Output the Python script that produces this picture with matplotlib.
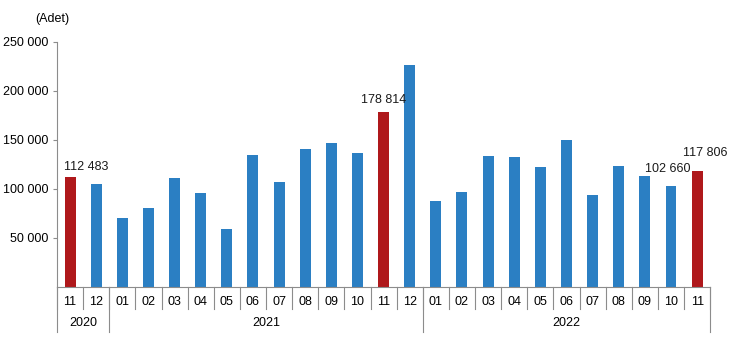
import matplotlib.pyplot as plt
import matplotlib.transforms as mtransforms

plt.rcParams['font.family'] = ['Liberation Sans', 'DejaVu Sans']

# data
months = ['11', '12',
          '01', '02', '03', '04', '05', '06', '07', '08', '09', '10', '11', '12',
          '01', '02', '03', '04', '05', '06', '07', '08', '09', '10', '11']
years = ['2020', '2021', '2022']
year_counts = [2, 12, 11]
values = [112483, 105000,
          70400, 80600, 111200, 95900, 59200, 134600, 107100, 140800, 146900, 136700, 178814, 226400,
          87700, 96900, 133600, 132600, 122400, 149900, 93800, 123400, 113200, 102660, 117806]
highlight = [0, 12, 24]
labelled = [0, 12, 23, 24]

blue = '#2B7FC3'
red = '#AF181B'
grey = '#8C8C8C'
fs = 9

fig = plt.figure(figsize=(7.29, 3.61), dpi=100)
ax = fig.add_axes([0.0782, 0.205, 0.896, 0.679])

x = list(range(len(values)))
colors = [red if i in highlight else blue for i in x]
ax.bar(x, values, width=0.42, color=colors, zorder=2)

# value labels (offsets in pixels, tuned by eye)
offsets = {0: (16, 10), 12: (0, 12), 23: (-3, 17), 24: (8, 18)}
for i in labelled:
    txt = f'{values[i]:,}'.replace(',', ' ')
    dx, dy = offsets[i]
    ax.annotate(txt, (i, values[i]), xytext=(dx, dy), textcoords='offset pixels',
                ha='center', va='center', fontsize=fs, color='#1a1a1a')

ax.set_xlim(-0.5, len(values) - 0.5)
ax.set_ylim(0, 250000)
yt = [50000, 100000, 150000, 200000, 250000]
ax.set_yticks(yt)
ax.set_yticklabels([f'{v:,}'.replace(',', ' ') for v in yt], fontsize=fs)
ax.tick_params(axis='y', length=3, color=grey, pad=3)
ax.set_xticks([])

for s in ['top', 'right']:
    ax.spines[s].set_visible(False)
ax.spines['left'].set_color(grey)
ax.spines['bottom'].set_color(grey)

# month labels and separators under the axis
trans = mtransforms.blended_transform_factory(ax.transData, ax.transAxes)
for i, m in enumerate(months):
    ax.text(i, -0.062, m, transform=trans, ha='center', va='center', fontsize=fs)
for i in range(len(months) + 1):
    ax.plot([i - 0.5, i - 0.5], [0, -0.09], transform=trans, color=grey,
            lw=0.8, clip_on=False)

# year labels and longer separators
start = 0
for yr, n in zip(years, year_counts):
    ax.plot([start - 0.5, start - 0.5], [0, -0.184], transform=trans, color=grey,
            lw=0.8, clip_on=False)
    ax.text(start - 0.5 + n / 2, -0.148, yr, transform=trans, ha='center', va='center',
            fontsize=fs)
    start += n
ax.plot([start - 0.5, start - 0.5], [0, -0.184], transform=trans, color=grey,
        lw=0.8, clip_on=False)

fig.text(0.048, 0.947, '(Adet)', fontsize=fs, va='center')

fig.savefig('out.png', dpi=100)
